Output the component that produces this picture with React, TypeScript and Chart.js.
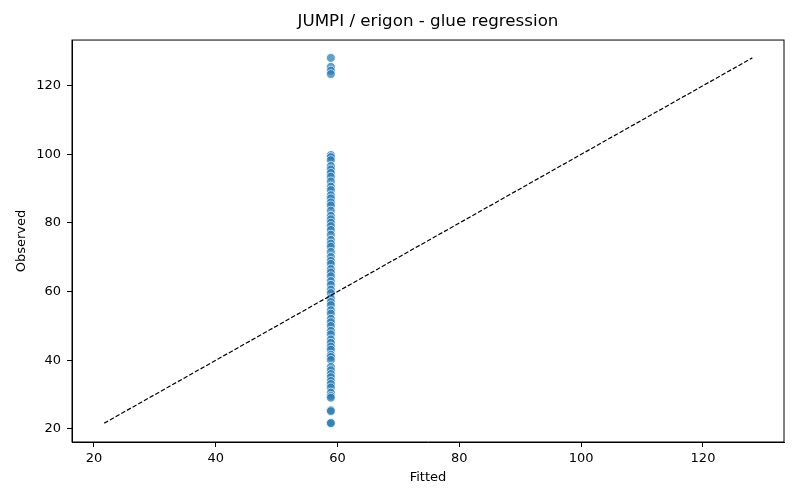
import React, { useEffect, useRef } from "react";
import { Chart, registerables } from "chart.js";

Chart.register(...registerables);

const fittedValue = 58.9;
const observed: number[] = [
  128.1, 125.5, 124.4, 123.4,
  99.8, 99.2, 98.3, 96.6, 95.6, 94.6, 93.5, 92.1, 90.6, 89.6, 88.1, 87.2, 86.0, 85.1,
  83.6, 82.1, 81.1, 80.1, 79.1, 78.0, 76.6, 75.1, 74.0, 73.1, 71.6, 70.1, 69.0, 68.1,
  66.6, 65.6, 64.5, 63.1, 62.0, 60.6, 59.6, 58.1, 57.0, 56.1, 54.6, 53.6, 52.1, 51.1,
  50.0, 48.6, 47.6, 46.1, 45.1, 44.0, 43.1, 41.6, 41.0, 40.1, 38.1, 37.1, 36.0, 35.1,
  34.0, 33.1, 32.1, 30.6, 29.6, 29.1, 25.5, 25.2, 21.8, 21.7,
];
const lineEnds: number[] = [21.7, 128.1];
const tickValues: number[] = [20, 40, 60, 80, 100, 120];

const FONT = "'DejaVu Sans', sans-serif";

export default function App() {
  const ref = useRef<HTMLCanvasElement | null>(null);

  useEffect(() => {
    const canvas = ref.current;
    if (!canvas) return;
    const boxPlugin = {
      id: "box",
      afterDraw(chart: any) {
        const { ctx, chartArea } = chart;
        ctx.save();
        ctx.strokeStyle = "#000";
        ctx.lineWidth = 1;
        ctx.strokeRect(chartArea.left, chartArea.top, chartArea.right - chartArea.left, chartArea.bottom - chartArea.top);
        ctx.restore();
      },
    };
    const chart = new Chart(canvas, {
      type: "scatter",
      data: {
        datasets: [
          {
            type: "scatter",
            data: observed.map((y) => ({ x: fittedValue, y })),
            backgroundColor: "rgba(31,119,180,0.7)",
            borderColor: "rgba(255,255,255,0.8)",
            borderWidth: 0.8,
            pointRadius: 4.4,
            order: 2,
          },
          {
            type: "line",
            data: lineEnds.map((v) => ({ x: v, y: v })),
            borderColor: "#000",
            borderWidth: 1.2,
            borderDash: [4.5, 2],
            pointRadius: 0,
            fill: false,
            order: 1,
          } as any,
        ],
      },
      options: {
        animation: false,
        responsive: false,
        devicePixelRatio: 1,
        layout: { padding: { left: 0, right: 16, top: 0, bottom: 0 } },
        plugins: {
          legend: { display: false },
          tooltip: { enabled: false },
          title: {
            display: true,
            fullSize: false,
            text: "JUMPI / erigon - glue regression",
            color: "#000",
            font: { family: FONT, size: 16.7, weight: "normal" },
            padding: { top: 12, bottom: 8 },
          },
        },
        scales: {
          x: {
            type: "linear",
            min: 16.4,
            max: 133.3,
            afterBuildTicks: (s: any) => {
              s.ticks = tickValues.map((v) => ({ value: v }));
            },
            afterFit: (s: any) => {
              s.height = 58;
            },
            grid: { display: true, drawOnChartArea: false, drawTicks: true, tickLength: 5, color: "#000" },
            border: { display: true, color: "#000" },
            ticks: { color: "#000", font: { family: FONT, size: 13 }, padding: 4, maxRotation: 0 },
            title: {
              display: true,
              text: "Fitted",
              color: "#000",
              font: { family: FONT, size: 13 },
              padding: { top: 0, bottom: 14.6 },
            },
          },
          y: {
            type: "linear",
            min: 16.2,
            max: 133.3,
            afterBuildTicks: (s: any) => {
              s.ticks = tickValues.map((v) => ({ value: v }));
            },
            afterFit: (s: any) => {
              s.width = 72;
            },
            grid: { display: true, drawOnChartArea: false, drawTicks: true, tickLength: 5, color: "#000" },
            border: { display: true, color: "#000" },
            ticks: { color: "#000", font: { family: FONT, size: 13 }, padding: 6 },
            title: {
              display: true,
              text: "Observed",
              color: "#000",
              font: { family: FONT, size: 13 },
              padding: { top: 14, bottom: 0 },
            },
          },
        },
      },
      plugins: [boxPlugin],
    });
    return () => chart.destroy();
  }, []);

  return (
    <div style={{ position: "absolute", left: 0, top: 0, width: 800, height: 500, background: "#fff" }}>
      <canvas ref={ref} width={800} height={500} style={{ width: 800, height: 500 }} />
    </div>
  );
}
